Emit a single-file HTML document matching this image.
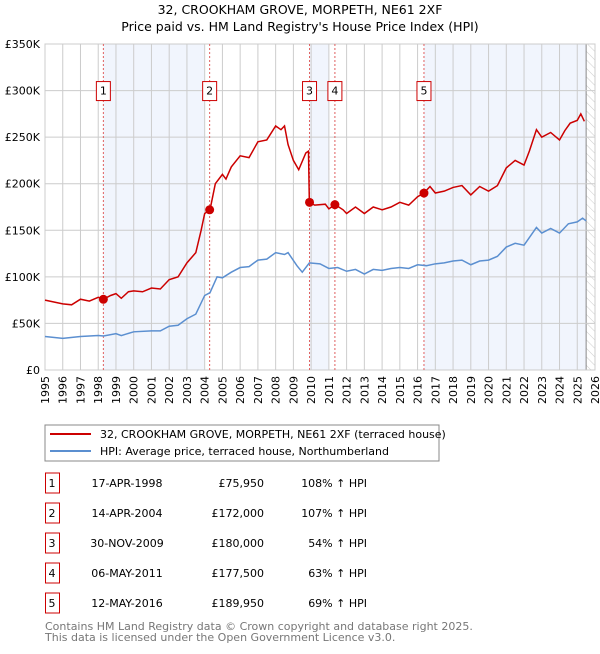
<!DOCTYPE html>
<html><head><meta charset="utf-8"><style>
body{margin:0;background:#fff;font-family:"DejaVu Sans","Liberation Sans",sans-serif;}
svg text{font-family:"DejaVu Sans","Liberation Sans",sans-serif;}
</style></head><body>
<svg id="c" width="600" height="650" xmlns="http://www.w3.org/2000/svg">
<defs><pattern id="hatch" width="6" height="6" patternUnits="userSpaceOnUse" patternTransform="rotate(-45)"><line x1="0" y1="0" x2="0" y2="6" stroke="#ccc" stroke-width="1"/></pattern></defs>
<text x="300" y="14" text-anchor="middle" font-size="12.5">32, CROOKHAM GROVE, MORPETH, NE61 2XF</text>
<text x="300" y="31" text-anchor="middle" font-size="12.5">Price paid vs. HM Land Registry's House Price Index (HPI)</text>
<g id="plot"></g>
<rect x="45" y="425" width="394" height="36" fill="#fff" stroke="#888"/>
<line x1="50" y1="434" x2="91" y2="434" stroke="#cc0000" stroke-width="2"/>
<text x="100" y="438" font-size="11">32, CROOKHAM GROVE, MORPETH, NE61 2XF (terraced house)</text>
<line x1="50" y1="451" x2="91" y2="451" stroke="#5b8fd0" stroke-width="2"/>
<text x="100" y="455" font-size="11">HPI: Average price, terraced house, Northumberland</text>
<g id="tbl"></g>
<text x="45" y="630" font-size="11" fill="#777">Contains HM Land Registry data © Crown copyright and database right 2025.</text>
<text x="45" y="641" font-size="11" fill="#777">This data is licensed under the Open Government Licence v3.0.</text>
</svg>
<script>
const yearTicks=[1995,1996,1997,1998,1999,2000,2001,2002,2003,2004,2005,2006,2007,2008,2009,2010,2011,2012,2013,2014,2015,2016,2017,2018,2019,2020,2021,2022,2023,2024,2025,2026];
const priceTicks=[0,50,100,150,200,250,300,350];
const priceTickLabels=["£0","£50K","£100K","£150K","£200K","£250K","£300K","£350K"];
const redT=[1995,1995.5,1996,1996.5,1997,1997.5,1998,1998.3,1998.7,1999,1999.3,1999.7,2000,2000.5,2001,2001.5,2002,2002.5,2003,2003.5,2003.8,2004,2004.3,2004.6,2005,2005.2,2005.5,2006,2006.5,2007,2007.5,2008,2008.3,2008.5,2008.7,2009,2009.3,2009.7,2009.85,2009.9,2010.2,2010.8,2011,2011.35,2011.8,2012,2012.5,2013,2013.5,2014,2014.5,2015,2015.5,2016,2016.36,2016.7,2017,2017.5,2018,2018.5,2019,2019.5,2020,2020.5,2021,2021.5,2022,2022.3,2022.7,2023,2023.5,2024,2024.3,2024.6,2025,2025.2,2025.4];
const redV=[75,73,71,70,76,74,78,76,80,82,77,84,85,84,88,87,97,100,115,126,150,168,172,200,210,205,218,230,228,245,247,262,258,262,242,225,215,233,235,180,177,178,173,177.5,172,168,175,168,175,172,175,180,177,186,190,197,190,192,196,198,188,197,192,198,217,225,220,235,258,250,255,247,257,265,268,275,267];
const hpiT=[1995,1996,1997,1998,1998.3,1999,1999.3,2000,2001,2001.5,2002,2002.5,2003,2003.5,2004,2004.3,2004.7,2005,2005.5,2006,2006.5,2007,2007.5,2008,2008.5,2008.7,2009.2,2009.5,2009.9,2010.5,2011,2011.5,2012,2012.5,2013,2013.5,2014,2014.5,2015,2015.5,2016,2016.5,2017,2017.5,2018,2018.5,2019,2019.5,2020,2020.5,2021,2021.5,2022,2022.7,2023,2023.5,2024,2024.5,2025,2025.3,2025.5];
const hpiV=[36,34,36,37,36.5,39,37,41,42,42,47,48,55,60,80,83,100,99,105,110,111,118,119,126,124,126,112,105,115,114,109,110,106,108,103,108,107,109,110,109,113,112,114,115,117,118,113,117,118,122,132,136,134,153,147,152,147,157,159,163,160];
const saleT=[1998.29,2004.28,2009.91,2011.34,2016.36];
const saleV=[75.95,172,180,177.5,189.95];
const saleLabels=["1","2","3","4","5"];
const saleDates=["17-APR-1998","14-APR-2004","30-NOV-2009","06-MAY-2011","12-MAY-2016"];
const salePrices=["£75,950","£172,000","£180,000","£177,500","£189,950"];
const saleHpi=["108% ↑ HPI","107% ↑ HPI","54% ↑ HPI","63% ↑ HPI","69% ↑ HPI"];
const bandStart=[1998.29,2009.91,2016.36];
const bandEnd=[2004.0,2011.0,2025.5];

const X0=45,X1=595,Y0=370,Y1=44;
const xs=t=>X0+(t-1995)/(2026-1995)*(X1-X0);
const ys=v=>Y0-v/350*(Y0-Y1);
const NS="http://www.w3.org/2000/svg";
const plot=document.getElementById('plot');
function mk(tag,attrs,parent){const e=document.createElementNS(NS,tag);for(const k in attrs)e.setAttribute(k,attrs[k]);(parent||plot).appendChild(e);return e;}
for(let i=0;i<bandStart.length;i++){
 const r=mk('rect',{x:xs(bandStart[i]),y:Y1,width:xs(bandEnd[i])-xs(bandStart[i]),height:Y0-Y1,fill:'#eef3fc',opacity:0.8});
 
 
}
const h=mk('rect',{x:xs(2025.5),y:Y1,width:X1-xs(2025.5),height:Y0-Y1,fill:'url(#hatch)'});


mk('line',{x1:xs(2025.5),y1:Y1,x2:xs(2025.5),y2:Y0,stroke:'#888'});
yearTicks.forEach(t=>{
 mk('line',{x1:xs(t),y1:Y1,x2:xs(t),y2:Y0,stroke:'#ccc'});
 const tx=mk('text',{x:0,y:0,'font-size':11,'text-anchor':'end',transform:`translate(${xs(t)+4},${Y0+6}) rotate(-90)`});
 tx.textContent=t;
 
 
});
priceTicks.forEach((v,i)=>{
 mk('line',{x1:X0,y1:ys(v),x2:X1,y2:ys(v),stroke:'#ccc'});
 const tx=mk('text',{x:X0-5,y:ys(v)+4,'font-size':11,'text-anchor':'end'});
 tx.textContent=priceTickLabels[i];
 
 
});
mk('rect',{x:X0,y:Y1,width:X1-X0,height:Y0-Y1,fill:'none',stroke:'#ccc'});
saleT.forEach((t,i)=>{
 mk('line',{x1:xs(t),y1:Y1,x2:xs(t),y2:Y0,stroke:'#e06060','stroke-dasharray':'2,2'});
 const b=mk('rect',{x:xs(t)-7,y:ys(300)-9,width:14,height:19,fill:'#fff',stroke:'#cc0000'});
 
 
 const tx=mk('text',{x:xs(t),y:ys(300)+4,'font-size':11,'text-anchor':'middle'});
 tx.textContent=saleLabels[i];
});
const hp=mk('polyline',{points:hpiT.map((t,i)=>xs(t)+','+ys(hpiV[i])).join(' '),fill:'none',stroke:'#5b8fd0','stroke-width':1.5});


const rp=mk('polyline',{points:redT.map((t,i)=>xs(t)+','+ys(redV[i])).join(' '),fill:'none',stroke:'#cc0000','stroke-width':1.5});


saleT.forEach((t,i)=>{
 const c=mk('circle',{cx:xs(t),cy:ys(saleV[i]),r:4.5,fill:'#cc0000'});
 
 
});
const tbl=document.getElementById('tbl');
saleT.forEach((t,i)=>{
 const cy=483+i*30;
 const b=mk('rect',{x:45.5,y:cy-10,width:14,height:20,fill:'#fff',stroke:'#cc0000'},tbl);
 
 
 const cols=[[52,'middle',saleLabels[i]],[127,'middle',saleDates[i]],[264,'end',salePrices[i]],[367,'end',saleHpi[i]]];
 cols.forEach(c=>{const tx=mk('text',{x:c[0],y:cy+4,'font-size':11,'text-anchor':c[1]},tbl);tx.textContent=c[2];
 
 });
});
</script>
</body></html>
